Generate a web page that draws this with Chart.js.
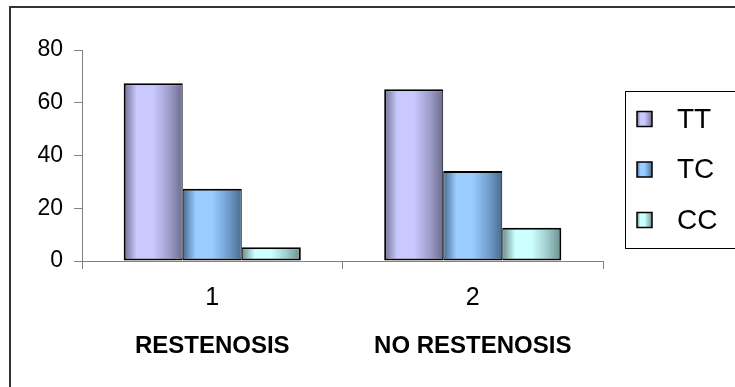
<!DOCTYPE html>
<html>
<head>
<meta charset="utf-8">
<script src="https://cdn.jsdelivr.net/npm/chart.js@4/dist/chart.umd.min.js"></script>
<style>
  html, body { margin: 0; padding: 0; background: #fff; }
  #wrap { position: relative; width: 735px; height: 387px; overflow: hidden; }
  #frame { position: absolute; left: 9px; top: 6px; right: -10px; bottom: -10px;
           border-left: 2px solid #333; border-top: 2px solid #333; pointer-events: none; }
  canvas { position: absolute; left: 0; top: 0; }
</style>
</head>
<body>
<div id="wrap">
  <canvas id="c" width="735" height="387"></canvas>
  <div id="frame"></div>
</div>
<script>
// Genotype distribution (%) by outcome group
const categories = ['1', '2'];
const groupNames = ['RESTENOSIS', 'NO RESTENOSIS'];
const seriesNames = ['TT', 'TC', 'CC'];
const ttValues = [67.4, 65.1];
const tcValues = [27.4, 34.1];
const ccValues = [5.2, 12.6];
const yTicks = [0, 20, 40, 60, 80];

// Cylinder-like shading per series: [edge, highlight, inner edge]
const shades = [
  ['#6c6c8e', '#c9c9ff', '#9c9cc8'],
  ['#4a6a8c', '#99ccff', '#6e9ccc'],
  ['#6a8c8a', '#ccffff', '#9cc8c8']
];

const FONT = '"Liberation Sans", Arial, sans-serif';

function shadeGradient(ctx, left, right, s) {
  const g = ctx.createLinearGradient(left, 0, right, 0);
  g.addColorStop(0, s[0]);
  g.addColorStop(0.22, s[1]);
  g.addColorStop(0.5, s[1]);
  g.addColorStop(0.78, s[2]);
  g.addColorStop(1, s[0]);
  return g;
}

// Repaint every bar with a horizontal gradient spanning its own width
const barShading = {
  id: 'barShading',
  beforeDatasetsDraw(chart) {
    const ctx = chart.ctx;
    chart.data.datasets.forEach((ds, di) => {
      const meta = chart.getDatasetMeta(di);
      meta.data.forEach(el => {
        const half = el.width / 2;
        const g = shadeGradient(ctx, el.x - half, el.x + half, shades[di]);
        el.options = Object.assign({}, el.options, { backgroundColor: g });
      });
    });
  }
};

// Boxed legend on the right
const boxedLegend = {
  id: 'boxedLegend',
  afterDraw(chart) {
    const ctx = chart.ctx;
    ctx.save();
    ctx.strokeStyle = '#000';
    ctx.lineWidth = 1;
    ctx.strokeRect(625.5, 91.5, 200, 157);
    ctx.font = '28px ' + FONT;
    ctx.textBaseline = 'middle';
    chart.data.datasets.forEach((ds, i) => {
      const cy = 119 + i * 50.5;
      const x = 637, sz = 15;
      ctx.fillStyle = shadeGradient(ctx, x, x + sz, shades[i]);
      ctx.fillRect(x, cy - sz / 2, sz, sz);
      ctx.lineWidth = 1.5;
      ctx.strokeStyle = '#000';
      ctx.strokeRect(x, cy - sz / 2, sz, sz);
      ctx.fillStyle = '#000';
      ctx.fillText(ds.label, 677, cy + 1);
    });
    ctx.restore();
  }
};

const borders = [
  { top: 2, left: 2, right: 1, bottom: 2 },
  { top: 2, left: 1, right: 1, bottom: 2 },
  { top: 2, left: 1, right: 2, bottom: 2 }
];

const seriesValues = [ttValues, tcValues, ccValues];

new Chart(document.getElementById('c'), {
  type: 'bar',
  data: {
    labels: categories,
    datasets: seriesNames.map((name, i) => ({
      label: name,
      data: seriesValues[i],
      backgroundColor: shades[i][1],
      borderColor: '#000',
      borderWidth: borders[i],
      borderSkipped: false,
      categoryPercentage: 0.68,
      barPercentage: 1.0
    }))
  },
  options: {
    responsive: false,
    animation: false,
    events: [],
    layout: { padding: { top: 50, right: 132, bottom: 25, left: 0 } },
    plugins: {
      legend: { display: false },
      tooltip: { enabled: false }
    },
    scales: {
      x: {
        position: 'bottom',
        offset: true,
        afterFit: s => { s.height = 53; },
        grid: { display: true, drawOnChartArea: false, drawTicks: true, tickLength: 8, color: '#808080', offset: true },
        border: { display: true, color: '#808080', width: 1 },
        ticks: { color: '#000', padding: 14, font: { family: FONT, size: 25 } }
      },
      x2: {
        type: 'category',
        position: 'bottom',
        labels: groupNames,
        offset: true,
        afterFit: s => { s.height = 48; },
        grid: { display: false, drawTicks: false },
        border: { display: false },
        ticks: { color: '#000', padding: 18, font: { family: FONT, size: 24, weight: 'bold' } }
      },
      y: {
        min: 0,
        max: 80,
        afterBuildTicks: s => { s.ticks = yTicks.map(v => ({ value: v })); },
        afterFit: s => { s.width = 82; },
        grid: { display: true, drawOnChartArea: false, drawTicks: true, tickLength: 8, color: '#808080' },
        border: { display: true, color: '#808080', width: 1 },
        ticks: { color: '#000', padding: 11, font: { family: FONT, size: 23 } }
      }
    }
  },
  plugins: [barShading, boxedLegend]
});
</script>
</body>
</html>
